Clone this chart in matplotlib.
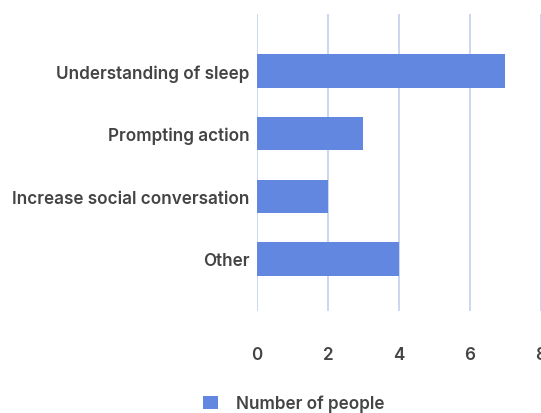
import matplotlib.pyplot as plt
from matplotlib.patches import Patch

# --- DATA ---
categories = ["Understanding of sleep", "Prompting action",
              "Increase social conversation", "Other"]
people = [7, 3, 2, 4]
xticks = [0, 2, 4, 6, 8]

bar_color = "#6287e0"
grid_color = "#c3cfef"
text_color = "#444444"

plt.rcParams['font.family'] = ['Inter', 'DejaVu Sans']

fig = plt.figure(figsize=(5.41, 4.14), dpi=100)
ax = fig.add_axes([0.475, 0.2464, 0.525, 0.7174])

ypos = list(range(len(categories)))
ax.barh(ypos, people, height=0.53, color=bar_color, zorder=3)

ax.set_xlim(0, 8)
ax.set_ylim(3.83, -0.91)
ax.set_xticks(xticks)
ax.set_xticklabels([str(t) for t in xticks])
ax.set_yticks(ypos)
ax.set_yticklabels(categories)

ax.grid(axis='x', color=grid_color, lw=1.2, zorder=0)
for s in ax.spines.values():
    s.set_visible(False)
ax.tick_params(axis='both', length=0, colors=text_color, labelsize=12.3)
ax.tick_params(axis='x', pad=25)
ax.tick_params(axis='y', pad=5.5)
for lbl in ax.get_xticklabels() + ax.get_yticklabels():
    lbl.set_fontweight('semibold')

handle = Patch(facecolor=bar_color, edgecolor='none')
fig.legend([handle], ["Number of people"], loc='center left',
           bbox_to_anchor=(0.376, 0.023), frameon=False,
           handlelength=0.85, handleheight=0.85, handletextpad=1.05,
           borderaxespad=0, borderpad=0,
           prop={'size': 12.3, 'weight': 'semibold'}, labelcolor=text_color)

fig.savefig("out.png", dpi=100)
